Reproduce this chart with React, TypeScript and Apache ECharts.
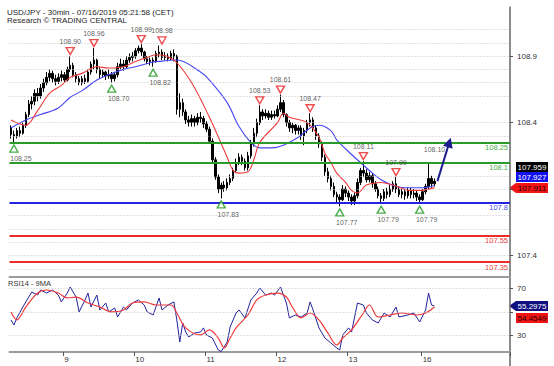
import React, { useEffect, useRef } from "react";
import * as echarts from "echarts";

// ---- time axis (1-hour slots, weekend skipped) ----
const sessions = [
  { day: 8, first: 6, last: 23, label: false },
  { day: 9, first: 0, last: 23, label: true },
  { day: 10, first: 0, last: 23, label: true },
  { day: 11, first: 0, last: 23, label: true },
  { day: 12, first: 0, last: 23, label: true },
  { day: 13, first: 0, last: 0, label: true },
  { day: 15, first: 0, last: 23, label: false },
  { day: 16, first: 0, last: 5, label: true },
];
const padSlots = 24;

// ---- price candles [open, close, low, high] ----
const candles = [
  [108.36, 108.31, 108.28, 108.38], [108.31, 108.30, 108.25, 108.34], [108.30, 108.34, 108.28, 108.36],
  [108.34, 108.32, 108.29, 108.37], [108.32, 108.38, 108.31, 108.40], [108.38, 108.46, 108.36, 108.48],
  [108.46, 108.54, 108.44, 108.57], [108.54, 108.56, 108.50, 108.60], [108.56, 108.62, 108.53, 108.65],
  [108.62, 108.60, 108.56, 108.66], [108.60, 108.66, 108.58, 108.69], [108.66, 108.70, 108.63, 108.73],
  [108.70, 108.74, 108.68, 108.78], [108.74, 108.77, 108.71, 108.80], [108.77, 108.73, 108.70, 108.79],
  [108.73, 108.71, 108.68, 108.76], [108.71, 108.74, 108.69, 108.77], [108.74, 108.76, 108.71, 108.79],
  [108.76, 108.72, 108.70, 108.78], [108.72, 108.80, 108.71, 108.82], [108.80, 108.83, 108.78, 108.90],
  [108.83, 108.76, 108.74, 108.85], [108.76, 108.73, 108.70, 108.78], [108.73, 108.70, 108.68, 108.75],
  [108.70, 108.73, 108.68, 108.75], [108.73, 108.71, 108.69, 108.76], [108.71, 108.78, 108.70, 108.80],
  [108.78, 108.84, 108.76, 108.86], [108.84, 108.87, 108.80, 108.96], [108.87, 108.80, 108.77, 108.88],
  [108.80, 108.76, 108.73, 108.82], [108.76, 108.78, 108.74, 108.80], [108.78, 108.75, 108.72, 108.79],
  [108.75, 108.76, 108.73, 108.80], [108.76, 108.73, 108.70, 108.78], [108.73, 108.76, 108.71, 108.78],
  [108.76, 108.82, 108.74, 108.85], [108.82, 108.84, 108.80, 108.88], [108.84, 108.82, 108.79, 108.87],
  [108.82, 108.87, 108.81, 108.90], [108.87, 108.89, 108.85, 108.92], [108.89, 108.90, 108.86, 108.93],
  [108.90, 108.94, 108.88, 108.96], [108.94, 108.96, 108.92, 108.98], [108.96, 108.93, 108.90, 108.99],
  [108.93, 108.88, 108.86, 108.94], [108.88, 108.86, 108.84, 108.90], [108.86, 108.87, 108.83, 108.89],
  [108.87, 108.86, 108.82, 108.89], [108.86, 108.92, 108.85, 108.94], [108.92, 108.93, 108.89, 108.98],
  [108.93, 108.89, 108.87, 108.95], [108.89, 108.90, 108.87, 108.93], [108.90, 108.88, 108.86, 108.92],
  [108.88, 108.92, 108.87, 108.94], [108.92, 108.90, 108.86, 108.95], [108.90, 108.50, 108.46, 108.91],
  [108.50, 108.55, 108.44, 108.62], [108.55, 108.48, 108.45, 108.58], [108.48, 108.42, 108.39, 108.50],
  [108.42, 108.40, 108.37, 108.45], [108.40, 108.43, 108.37, 108.46], [108.43, 108.40, 108.37, 108.45],
  [108.40, 108.44, 108.38, 108.47], [108.44, 108.43, 108.40, 108.48], [108.43, 108.39, 108.36, 108.45],
  [108.39, 108.35, 108.33, 108.41], [108.35, 108.26, 108.24, 108.37], [108.26, 108.12, 108.10, 108.28],
  [108.12, 107.99, 107.97, 108.14], [107.99, 107.90, 107.87, 108.01], [107.90, 107.93, 107.83, 107.95],
  [107.93, 107.91, 107.88, 107.96], [107.91, 107.95, 107.89, 107.98], [107.95, 107.98, 107.93, 108.01],
  [107.98, 108.04, 107.96, 108.06], [108.04, 108.10, 108.02, 108.13], [108.10, 108.14, 108.08, 108.17],
  [108.14, 108.11, 108.08, 108.16], [108.11, 108.06, 108.04, 108.13], [108.06, 108.15, 108.04, 108.18],
  [108.15, 108.24, 108.13, 108.27], [108.24, 108.32, 108.22, 108.36], [108.32, 108.40, 108.29, 108.43],
  [108.40, 108.48, 108.38, 108.53], [108.48, 108.45, 108.42, 108.50], [108.45, 108.47, 108.43, 108.50],
  [108.47, 108.44, 108.42, 108.49], [108.44, 108.46, 108.42, 108.49], [108.46, 108.45, 108.43, 108.49],
  [108.45, 108.50, 108.44, 108.53], [108.50, 108.55, 108.48, 108.61], [108.55, 108.46, 108.44, 108.57],
  [108.46, 108.40, 108.37, 108.47], [108.40, 108.36, 108.33, 108.42], [108.36, 108.38, 108.32, 108.40],
  [108.38, 108.34, 108.31, 108.39], [108.34, 108.36, 108.31, 108.38], [108.36, 108.30, 108.27, 108.38],
  [108.30, 108.34, 108.23, 108.36], [108.34, 108.40, 108.32, 108.42], [108.40, 108.42, 108.37, 108.47],
  [108.42, 108.36, 108.33, 108.44], [108.36, 108.30, 108.27, 108.38], [108.30, 108.24, 108.21, 108.32],
  [108.24, 108.14, 108.11, 108.26], [108.14, 108.03, 108.00, 108.16], [108.03, 107.98, 107.95, 108.06],
  [107.98, 107.92, 107.89, 108.00], [107.92, 107.86, 107.84, 107.95], [107.86, 107.84, 107.80, 107.88],
  [107.84, 107.82, 107.77, 107.86], [107.82, 107.90, 107.81, 107.93], [107.90, 107.87, 107.84, 107.92],
  [107.87, 107.84, 107.81, 107.89], [107.84, 107.81, 107.78, 107.86], [107.81, 107.85, 107.78, 107.87],
  [107.85, 107.95, 107.83, 107.98], [107.95, 108.04, 107.93, 108.06], [108.04, 108.02, 107.99, 108.11],
  [108.02, 107.97, 107.95, 108.05], [107.97, 108.00, 107.95, 108.03], [108.00, 107.94, 107.91, 108.02],
  [107.94, 107.90, 107.88, 107.96], [107.90, 107.85, 107.83, 107.92], [107.85, 107.83, 107.79, 107.87],
  [107.83, 107.88, 107.81, 107.90], [107.88, 107.86, 107.83, 107.91], [107.86, 107.90, 107.84, 107.93],
  [107.90, 107.94, 107.88, 107.96], [107.94, 107.90, 107.87, 107.99], [107.90, 107.86, 107.84, 107.92],
  [107.86, 107.88, 107.83, 107.90], [107.88, 107.85, 107.82, 107.90], [107.85, 107.89, 107.83, 107.91],
  [107.89, 107.86, 107.83, 107.91], [107.86, 107.87, 107.83, 107.90], [107.87, 107.84, 107.81, 107.89],
  [107.84, 107.82, 107.79, 107.86], [107.82, 107.88, 107.81, 107.90], [107.88, 107.92, 107.86, 107.94],
  [107.92, 107.98, 107.90, 108.10], [107.98, 107.94, 107.91, 108.00], [107.94, 107.959, 107.92, 107.98],
];

// ---- moving averages on price, [slot, value] ----
const maFast = [
  [0, 108.42], [5, 108.38], [9, 108.49], [13, 108.62], [17, 108.68], [20, 108.74], [24, 108.77],
  [29, 108.82], [33, 108.81], [38, 108.82], [42, 108.86], [46, 108.89], [49, 108.91], [55, 108.87],
  [61, 108.70], [67, 108.44], [73, 108.14], [75, 108.04], [77, 108.02], [80, 108.03], [82, 108.12],
  [84, 108.25], [90, 108.40], [92, 108.47], [94, 108.44], [100, 108.40], [104, 108.29], [106, 108.17],
  [108, 108.10], [110, 108.02], [113, 107.95], [115, 107.89], [117, 107.87], [120, 107.93],
  [125, 107.95], [129, 107.93], [135, 107.89], [138, 107.89], [143, 107.911],
];
const maSlow = [
  [0, 108.36], [5, 108.42], [10, 108.46], [16, 108.51], [20, 108.59], [24, 108.64], [29, 108.72],
  [33, 108.76], [38, 108.80], [42, 108.82], [47, 108.85], [50, 108.86], [56, 108.87], [64, 108.78],
  [67, 108.72], [73, 108.55], [77, 108.37], [81, 108.25], [84, 108.21], [88, 108.21], [92, 108.23],
  [97, 108.29], [101, 108.36], [104, 108.38], [108, 108.34], [110, 108.27], [115, 108.16],
  [119, 108.08], [121, 108.04], [125, 107.97], [130, 107.92], [135, 107.91], [139, 107.91],
  [143, 107.927],
];

// ---- RSI panel ----
const rsi14 = [
  [0, 43.4], [1, 39.1], [2, 45.1], [4, 54.4], [6, 62.9], [7, 67.2], [9, 64.6], [10, 68.9], [12, 66.3],
  [14, 68.9], [16, 64.6], [17, 58.7], [19, 66.3], [20, 71.4], [22, 62.9], [23, 50.2], [25, 60.4],
  [26, 66.3], [27, 54.4], [29, 64.6], [30, 51.9], [32, 57.8], [33, 50.2], [35, 53.6], [36, 45.9],
  [38, 54.4], [39, 51.9], [41, 57.8], [43, 60.4], [45, 56.1], [46, 50.2], [48, 47.6], [50, 62.1],
  [51, 51.9], [53, 56.1], [55, 58.7], [56, 43.4], [57, 24.6], [58, 40.8], [59, 33.1], [60, 28.9],
  [62, 32.3], [64, 33.1], [65, 36.6], [66, 30.6], [68, 28.0], [70, 17.8], [71, 16.5], [73, 24.6],
  [74, 37.4], [76, 49.3], [77, 51.9], [79, 45.1], [81, 60.4], [83, 66.3], [84, 70.6], [86, 64.6],
  [88, 66.3], [89, 64.6], [91, 71.4], [93, 57.8], [94, 45.1], [96, 47.6], [98, 45.9], [100, 49.3],
  [101, 58.7], [102, 51.9], [104, 36.6], [106, 28.0], [108, 23.8], [110, 19.5], [111, 17.8],
  [112, 30.6], [114, 36.6], [115, 33.1], [117, 57.8], [119, 56.1], [120, 49.3], [122, 43.4],
  [124, 40.8], [126, 49.3], [128, 45.9], [130, 54.4], [131, 45.9], [134, 47.6], [136, 49.3],
  [138, 41.7], [140, 51.9], [141, 66.3], [142, 56.1], [143, 55.2975],
];
const rsiMa9 = [
  [0, 50.2], [2, 43.4], [5, 54.4], [9, 66.3], [12, 68.9], [16, 66.3], [19, 62.1], [22, 62.9],
  [26, 57.8], [30, 54.4], [34, 50.2], [38, 51.9], [41, 57.8], [45, 58.7], [49, 56.1], [54, 56.1],
  [56, 49.3], [59, 36.6], [64, 30.6], [67, 34.9], [70, 28.0], [72, 19.5], [74, 28.0], [76, 36.6],
  [80, 47.6], [83, 60.4], [86, 64.6], [90, 66.3], [93, 62.9], [95, 54.4], [98, 45.1], [101, 49.3],
  [104, 43.4], [107, 32.3], [110, 22.1], [112, 28.0], [115, 34.9], [119, 49.3], [121, 56.1],
  [124, 45.9], [128, 47.6], [132, 49.3], [137, 47.6], [140, 49.3], [143, 54.4549],
];

// ---- annotations ----
const highs = [[20, 108.9], [28, 108.96], [44, 108.99], [51, 108.98], [84, 108.53], [91, 108.61], [101, 108.47], [119, 108.11], [130, 107.99]];
const lows = [[1, 108.25], [34, 108.7], [48, 108.82], [71, 107.83], [111, 107.77], [125, 107.79], [138, 107.79]];
const levelValues = [108.25, 108.1, 107.8, 107.55, 107.35];
const levelTexts = ["108.25", "108.1", "107.8", "107.55", "107.35"];
const levelKinds = ["res", "res", "pivot", "sup", "sup"];
const arrowFrom = [144, 107.96];
const arrowTo = [148, 108.25];
const targetNote = [143, 108.2];
const targetText = "108.10";

// ---- axes ----
const priceTicks = [107.4, 107.9, 108.4, 108.9];
const priceLabels = [107.4, 108.4, 108.9];
const priceGrid = [107.3, 107.4, 107.5, 107.6, 107.7, 107.9, 108.0, 108.3, 108.4, 108.6, 108.7, 108.8, 108.9, 109.0, 109.1];
const rsiTicks = [30, 50, 70];
const rsiLabels = [30, 70];
const rsiGrid = [30, 50, 70];

const FONT = '"Liberation Sans", Arial, sans-serif';
const kindColor: Record<string, [string, string]> = {
  res: ["#2a9a2a", "#4caa4c"],
  pivot: ["#2323e0", "#4848ee"],
  sup: ["#ee2b2b", "#e84040"],
};

function buildCategories() {
  const cats: string[] = [];
  const labels: Record<number, string> = {};
  sessions.forEach((s) => {
    for (let h = s.first; h <= s.last; h++) {
      if (h === 0 && s.label) labels[cats.length] = String(s.day);
      cats.push(`07-${s.day} ${String(h).padStart(2, "0")}:00`);
    }
  });
  for (let i = 0; i < padSlots; i++) cats.push(`pad-${i}`);
  return { cats, labels };
}

function buildOption() {
  const { cats, labels } = buildCategories();
  const isDay = (i: number) => labels[i] !== undefined;
  const grey = "#9c9c9c";
  const txt = { fontFamily: FONT, fontSize: 8, color: "#333" };

  const gridLines = priceGrid.map((v) => ({
    yAxis: v,
    lineStyle: { type: [1, 2], color: "#c4c4c4", width: 1 },
    label: { show: false },
  }));
  const levelLines = levelValues.map((v, i) => ({
    yAxis: v,
    name: levelTexts[i],
    lineStyle: { type: "solid", color: kindColor[levelKinds[i]][0], width: 2 },
    label: {
      show: true,
      position: "insideEndBottom",
      formatter: "{b}",
      distance: [2, 1],
      fontFamily: FONT,
      fontSize: 7.5,
      color: kindColor[levelKinds[i]][1],
    },
  }));

  return {
    animation: false,
    backgroundColor: "#ffffff",
    title: [
      {
        text: "USD/JPY - 30min - 07/16/2019 05:21:58 (CET)",
        subtext: "Research © TRADING CENTRAL",
        left: 7,
        top: 8,
        padding: 0,
        itemGap: 0,
        textStyle: { fontFamily: FONT, fontSize: 8, fontWeight: "normal", color: "#1e1e28" },
        subtextStyle: { fontFamily: FONT, fontSize: 8, color: "#1e1e28" },
      },
      {
        text: "RSI14 - 9MA",
        left: 8,
        top: 279,
        padding: 0,
        textStyle: { fontFamily: FONT, fontSize: 7.5, fontWeight: "normal", color: "#333" },
      },
    ],
    grid: [
      { left: 9.5, right: 44, top: 7, height: 270 },
      { left: 9.5, right: 44, top: 278, height: 74 },
    ],
    xAxis: [
      {
        type: "category",
        gridIndex: 0,
        data: cats,
        boundaryGap: true,
        axisLine: { show: true, lineStyle: { color: grey, width: 2 } },
        axisTick: { show: false },
        axisLabel: { show: false },
        splitLine: { show: false },
      },
      {
        type: "category",
        gridIndex: 1,
        data: cats,
        boundaryGap: true,
        axisLine: { show: true, lineStyle: { color: grey, width: 2 } },
        axisTick: { show: true, interval: (i: number) => isDay(i), length: 4, lineStyle: { color: "#555" } },
        axisLabel: {
          interval: (i: number) => isDay(i),
          formatter: (_v: string, i: number) => labels[i] || "",
          align: "left",
          margin: 3,
          ...txt,
        },
        splitLine: { show: false },
      },
    ],
    yAxis: [
      {
        type: "value",
        gridIndex: 0,
        position: "right",
        min: 107.239,
        max: 109.269,
        axisLine: { show: true, lineStyle: { color: "#666", width: 1.5 } },
        axisTick: { show: true, customValues: priceTicks, length: 3, lineStyle: { color: "#555" } },
        axisLabel: { customValues: priceLabels, formatter: (v: number) => v.toFixed(1), margin: 7, ...txt },
        splitLine: { show: false },
      },
      {
        type: "value",
        gridIndex: 1,
        position: "right",
        min: 16.1,
        max: 79.1,
        axisLine: { show: true, lineStyle: { color: "#666", width: 1.5 } },
        axisTick: { show: true, customValues: rsiTicks, length: 3, lineStyle: { color: "#555" } },
        axisLabel: { customValues: rsiLabels, formatter: (v: number) => String(v), margin: 7, ...txt },
        splitLine: { show: false },
      },
    ],
    series: [
      {
        name: "USDJPY",
        type: "candlestick",
        xAxisIndex: 0,
        yAxisIndex: 0,
        data: candles,
        barWidth: 2,
        itemStyle: { color: "#000", color0: "#000", borderColor: "#000", borderColor0: "#000", borderWidth: 1 },
        markLine: { silent: true, symbol: "none", animation: false, data: [...gridLines, ...levelLines] },
      },
      {
        name: "MA slow",
        type: "line",
        xAxisIndex: 0,
        yAxisIndex: 0,
        data: maSlow,
        smooth: 0.35,
        symbol: "none",
        lineStyle: { color: "#4545f2", width: 1.1 },
      },
      {
        name: "MA fast",
        type: "line",
        xAxisIndex: 0,
        yAxisIndex: 0,
        data: maFast,
        smooth: 0.35,
        symbol: "none",
        lineStyle: { color: "#f03a3a", width: 1.1 },
      },
      {
        name: "highs",
        type: "scatter",
        xAxisIndex: 0,
        yAxisIndex: 0,
        data: highs,
        symbol: "triangle",
        symbolRotate: 180,
        symbolSize: [8, 7],
        symbolOffset: [0, -5],
        itemStyle: { color: "#ffffff", borderColor: "#e82020", borderWidth: 1.4 },
        label: {
          show: true,
          position: "top",
          distance: 2,
          offset: [6, 0],
          formatter: (p: any) => p.value[1].toFixed(2),
          fontFamily: FONT,
          fontSize: 7,
          color: "#333",
        },
        labelLayout: { moveOverlap: "shiftX" },
        z: 5,
      },
      {
        name: "lows",
        type: "scatter",
        xAxisIndex: 0,
        yAxisIndex: 0,
        data: lows,
        symbol: "triangle",
        symbolSize: [8, 7],
        symbolOffset: [0, 6],
        itemStyle: { color: "#ffffff", borderColor: "#1f9a1f", borderWidth: 1.4 },
        label: {
          show: true,
          position: "bottom",
          distance: 2,
          offset: [7, 0],
          formatter: (p: any) => p.value[1].toFixed(2),
          fontFamily: FONT,
          fontSize: 7,
          color: "#333",
        },
        z: 5,
      },
      {
        name: "target",
        type: "scatter",
        xAxisIndex: 0,
        yAxisIndex: 0,
        data: [targetNote],
        symbolSize: 1,
        itemStyle: { color: "rgba(0,0,0,0)" },
        label: {
          show: true,
          position: "inside",
          formatter: targetText,
          fontFamily: FONT,
          fontSize: 7,
          color: "#333",
        },
        markLine: {
          silent: true,
          symbol: ["none", "triangle"],
          symbolSize: 10,
          label: { show: false },
          lineStyle: { type: "solid", color: "#1c1c8c", width: 2, curveness: 0.05 },
          data: [[{ coord: arrowFrom }, { coord: arrowTo }]],
        },
        z: 6,
      },
      {
        name: "RSI14",
        type: "line",
        xAxisIndex: 1,
        yAxisIndex: 1,
        data: rsi14,
        symbol: "none",
        lineStyle: { color: "#23239c", width: 1 },
        markLine: {
          silent: true,
          symbol: "none",
          label: { show: false },
          data: rsiGrid.map((v) => ({ yAxis: v, lineStyle: { type: [1, 2], color: "#c4c4c4", width: 1 } })),
        },
      },
      {
        name: "RSI 9MA",
        type: "line",
        xAxisIndex: 1,
        yAxisIndex: 1,
        data: rsiMa9,
        smooth: 0.35,
        symbol: "none",
        lineStyle: { color: "#f03a3a", width: 1.2 },
      },
    ],
  };
}

function tag(y: number, text: string, bg: string, fg: string, pointer: boolean) {
  return {
    type: "group",
    x: 510,
    y: Math.round(y),
    z: 100,
    children: [
      pointer
        ? { type: "polygon", shape: { points: [[-1, 0], [6, -5], [38, -5], [38, 5], [6, 5]] }, style: { fill: bg } }
        : { type: "rect", shape: { x: 6, y: -5, width: 32, height: 10 }, style: { fill: bg } },
      {
        type: "text",
        x: 22,
        y: 0.5,
        style: { text, fill: fg, font: `8px ${FONT}`, align: "center", verticalAlign: "middle" },
      },
    ],
  };
}

export default function App() {
  const ref = useRef<HTMLDivElement>(null);
  useEffect(() => {
    const chart = echarts.init(ref.current as HTMLDivElement, null, { renderer: "svg" });
    chart.setOption(buildOption() as any);

    const lastClose = candles[candles.length - 1][1];
    const lastSlow = maSlow[maSlow.length - 1][1];
    const lastFast = maFast[maFast.length - 1][1];
    const lastRsi = rsi14[rsi14.length - 1][1];
    const lastRsiMa = rsiMa9[rsiMa9.length - 1][1];
    const yFast = chart.convertToPixel({ yAxisIndex: 0 } as any, lastFast) as unknown as number;
    const yRsi = chart.convertToPixel({ yAxisIndex: 1 } as any, lastRsi) as unknown as number;

    chart.setOption({
      graphic: [
        { type: "line", shape: { x1: 510, y1: 352, x2: 510, y2: 366 }, style: { stroke: "#666", lineWidth: 1.5 } },
        tag(yFast - 21, lastClose.toFixed(3), "#000000", "#ffffff", false),
        tag(yFast - 10.5, lastSlow.toFixed(3), "#1212f0", "#ffffff", false),
        tag(yFast, lastFast.toFixed(3), "#f01414", "#2a0000", true),
        tag(yRsi, lastRsi.toFixed(4), "#101080", "#ffffff", true),
        tag(yRsi + 12, lastRsiMa.toFixed(4), "#f01414", "#2a0000", false),
      ],
    } as any);

    return () => chart.dispose();
  }, []);
  return (
    <div
      ref={ref}
      style={{ position: "absolute", left: 0, top: 0, width: 554, height: 366, background: "#fff" }}
    />
  );
}
